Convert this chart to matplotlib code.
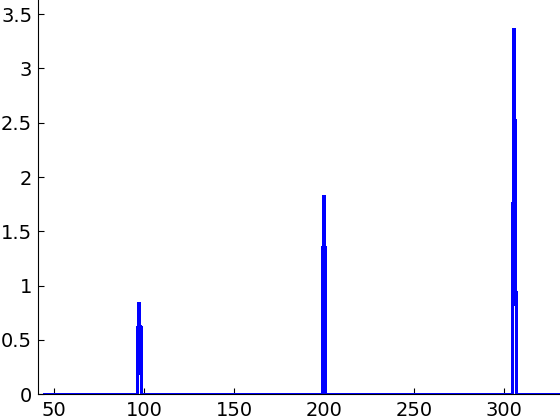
import matplotlib
matplotlib.use("Agg")
import matplotlib.pyplot as plt

# signal points (x, intensity); baseline is zero outside the three peaks
x_vals = [45,
          96.3, 96.32, 96.95, 97.05, 97.65, 97.75, 98.38, 98.4,
          198.9, 198.92, 199.5, 199.6, 200.2, 200.3, 200.98, 201.0,
          304.7, 304.72, 305.05, 305.0, 305.75, 305.85, 306.2, 306.6, 306.62,
          331]
y_vals = [0,
          0, 0.62, 0.19, 0.84, 0.84, 0.19, 0.62, 0,
          0, 1.35, 0.44, 1.82, 1.82, 0.44, 1.35, 0,
          0, 1.76, 0.83, 3.36, 3.36, 0.83, 2.52, 0.83, 0,
          0]

xticks = [50, 100, 150, 200, 250, 300]
yticks = [0, 0.5, 1, 1.5, 2, 2.5, 3, 3.5]

plt.rcParams["font.family"] = ["DejaVu Sans"]
fig = plt.figure(figsize=(5.6, 4.2), dpi=100)
ax = fig.add_axes([0.0673, 0.0612, 0.9327, 0.9388])

ax.plot(x_vals, y_vals, color="#0000ff", linewidth=1.44, antialiased=False)

ax.set_xlim(41, 331)
ax.set_ylim(0, 3.63)
ax.set_xticks(xticks)
ax.set_xticklabels([str(t) for t in xticks])
ax.set_yticks(yticks)
ax.set_yticklabels(["0", "0.5", "1", "1.5", "2", "2.5", "3", "3.5"])
ax.tick_params(direction="in", length=4, width=0.8, labelsize=14)
ax.tick_params(axis="y", pad=4)
ax.tick_params(axis="x", pad=5)
ax.spines["top"].set_visible(False)
ax.spines["right"].set_visible(False)

plt.savefig("out.png", dpi=100)
